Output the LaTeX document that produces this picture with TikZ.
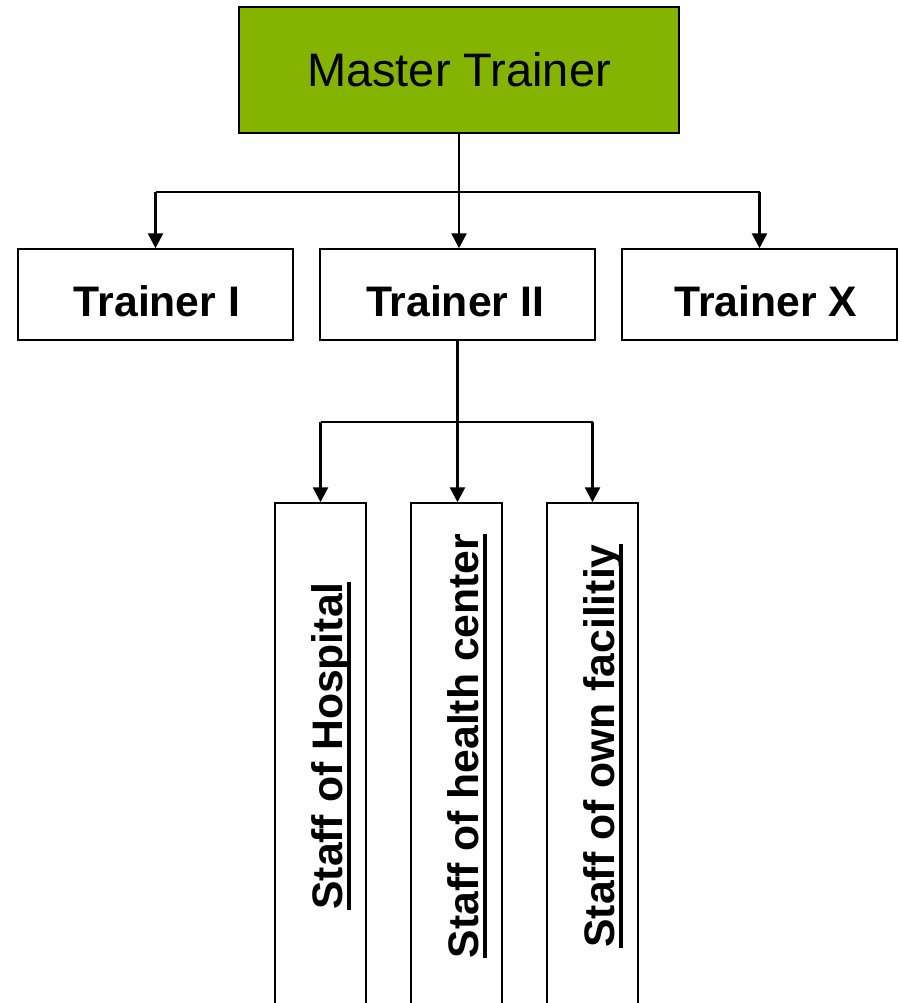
\documentclass[tikz,border=0pt]{standalone}
\usepackage{fontspec}
\setmainfont{Liberation Sans}
\usetikzlibrary{arrows.meta}
\definecolor{mgreen}{RGB}{132,180,0}
\newsavebox\ulbox
\newcommand\myul[1]{\sbox\ulbox{#1}\rlap{\rule[-8.5pt]{\wd\ulbox}{4pt}}\usebox\ulbox}
\begin{document}
\begin{tikzpicture}[x=1pt,y=-1pt,
  boxstyle/.style={draw, line width=1.5pt, inner sep=0pt},
  trainerbox/.style={boxstyle, minimum width=275pt, minimum height=91pt},
  staffbox/.style={boxstyle, minimum width=91pt, minimum height=507pt},
  btext/.style={font=\bfseries\fontsize{42.7}{50}\selectfont, inner sep=0pt, anchor=base},
  conn/.style={line width=2.5pt},
  arr/.style={conn, -{Triangle[length=15pt,width=15pt]}}]
\useasboundingbox (0,0) rectangle (900,1003);
% top
\node[boxstyle, fill=mgreen, minimum width=440pt, minimum height=126pt,
      font=\fontsize{47}{56}\selectfont] (m) at (459,70) {Master Trainer};
% trainers
\node[trainerbox] (tI) at (155.5,294.5) {};
\node[trainerbox] (tII) at (457.5,294.5) {};
\node[trainerbox] (tX) at (759.5,294.5) {};
\node[btext] (ttI) at (157,316) {Trainer I};
\node[btext] (ttII) at (455,316) {Trainer II};
\node[btext] (ttX) at (766,316) {Trainer X};
% staff boxes
\node[staffbox] (s1) at (320.5,756.5) {};
\node[staffbox] (s2) at (456.5,756.5) {};
\node[staffbox] (s3) at (592.5,756.5) {};
\node[btext, rotate=90] (st1) at (342,746) {\myul{Staff of Hospital}};
\node[btext, rotate=90] (st2) at (478,746) {\myul{Staff of health center}};
\node[btext, rotate=90] (st3) at (614.5,746) {\myul{Staff of own facilitiy}};
% connectors level 1
\coordinate (bus1) at (459,192);
\draw[arr] (m.south) -- (m.south |- tII.north);
\draw[conn] (tI.north |- bus1) -- (tX.north |- bus1);
\draw[arr] (tI.north |- bus1) -- (tI.north);
\draw[arr] (tX.north |- bus1) -- (tX.north);
% connectors level 2
\coordinate (bus2) at (458,422);
\draw[arr] (tII.south) -- (tII.south |- s2.north);
\draw[conn] (s1.north |- bus2) -- (s3.north |- bus2);
\draw[arr] (s1.north |- bus2) -- (s1.north);
\draw[arr] (s3.north |- bus2) -- (s3.north);
\end{tikzpicture}
\end{document}
